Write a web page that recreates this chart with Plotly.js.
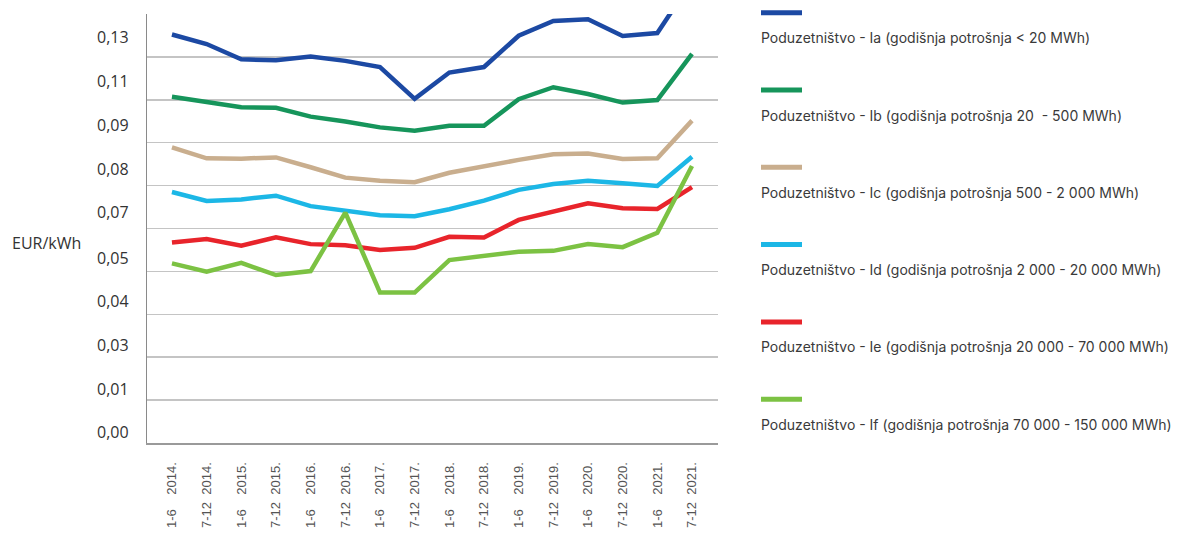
<!DOCTYPE html>
<html>
<head>
<meta charset="utf-8">
<script src="https://cdn.plot.ly/plotly-3.0.1.min.js"></script>
<style>
  html, body { margin: 0; padding: 0; background: #ffffff; }
  #chart { width: 1182px; height: 541px; }
</style>
</head>
<body>
<div id="chart"></div>
<script>
// Half-year periods
const periods = [
  "1-6\u00a0\u00a0\u00a0\u00a02014.", "7-12\u00a0\u00a02014.",
  "1-6\u00a0\u00a0\u00a0\u00a02015.", "7-12\u00a0\u00a02015.",
  "1-6\u00a0\u00a0\u00a0\u00a02016.", "7-12\u00a0\u00a02016.",
  "1-6\u00a0\u00a0\u00a0\u00a02017.", "7-12\u00a0\u00a02017.",
  "1-6\u00a0\u00a0\u00a0\u00a02018.", "7-12\u00a0\u00a02018.",
  "1-6\u00a0\u00a0\u00a0\u00a02019.", "7-12\u00a0\u00a02019.",
  "1-6\u00a0\u00a0\u00a0\u00a02020.", "7-12\u00a0\u00a02020.",
  "1-6\u00a0\u00a0\u00a0\u00a02021.", "7-12\u00a0\u00a02021."
];

// Price per category, EUR/kWh
const seriesIa = [0.1333, 0.1302, 0.1252, 0.1249, 0.1261, 0.1247, 0.1227, 0.1123, 0.1209, 0.1227, 0.1329, 0.1377, 0.1383, 0.1328, 0.1338, 0.1508];
const seriesIb = [0.1130, 0.1112, 0.1096, 0.1094, 0.1065, 0.1049, 0.1030, 0.1019, 0.1035, 0.1035, 0.1122, 0.1161, 0.1139, 0.1111, 0.1119, 0.1270];
const seriesIc = [0.0965, 0.0929, 0.0928, 0.0932, 0.0900, 0.0866, 0.0856, 0.0851, 0.0882, 0.0904, 0.0924, 0.0942, 0.0945, 0.0927, 0.0929, 0.1052];
const seriesId = [0.0819, 0.0790, 0.0795, 0.0807, 0.0773, 0.0757, 0.0743, 0.0740, 0.0763, 0.0791, 0.0826, 0.0845, 0.0856, 0.0848, 0.0839, 0.0934];
const seriesIe = [0.0654, 0.0666, 0.0644, 0.0671, 0.0649, 0.0645, 0.0630, 0.0637, 0.0673, 0.0671, 0.0728, 0.0755, 0.0782, 0.0766, 0.0764, 0.0835];
const seriesIf = [0.0586, 0.0559, 0.0588, 0.0548, 0.0561, 0.0752, 0.0491, 0.0491, 0.0597, 0.0610, 0.0624, 0.0627, 0.0649, 0.0639, 0.0686, 0.0904];

const seriesNames = [
  "Poduzetništvo - Ia (godišnja potrošnja < 20 MWh)",
  "Poduzetništvo - Ib (godišnja potrošnja 20  - 500 MWh)",
  "Poduzetništvo - Ic (godišnja potrošnja 500 - 2 000 MWh)",
  "Poduzetništvo - Id (godišnja potrošnja 2 000 - 20 000 MWh)",
  "Poduzetništvo - Ie (godišnja potrošnja 20 000 - 70 000 MWh)",
  "Poduzetništvo - If (godišnja potrošnja 70 000 - 150 000 MWh)"
];
const seriesColors = ["#1c49a3", "#16955b", "#c9ae8e", "#1cb7e6", "#e8242b", "#7cc243"];

// Grid lines and the tick labels shown beside them
const gridVals = [0, 0.014, 0.028, 0.042, 0.056, 0.070, 0.084, 0.098, 0.112, 0.126, 0.140];
const tickLabelVals = [0.0036, 0.0176, 0.0320, 0.0463, 0.0604, 0.0754, 0.0894, 0.1038, 0.1181, 0.1325];
const tickLabels = ["0,00", "0,01", "0,03", "0,04", "0,05", "0,07", "0,08", "0,09", "0,11", "0,13"];

const allSeries = [seriesIa, seriesIb, seriesIc, seriesId, seriesIe, seriesIf];
const xIdx = periods.map((_, i) => i);

const traces = allSeries.map((vals, k) => ({
  type: "scatter",
  mode: "lines",
  x: xIdx,
  y: vals,
  name: seriesNames[k],
  line: { color: seriesColors[k], width: 4.5 },
  hoverinfo: "skip",
  showlegend: false
}));

const W = 1182, H = 541;
const M = { l: 147, r: 464, t: 14, b: 98 };
const plotW = W - M.l - M.r;
const plotH = H - M.t - M.b;
const px2x = px => (px - M.l) / plotW;
const py2y = py => (H - M.b - py) / plotH;

const annotations = [];
const shapes = [];

// Value labels on the left, placed against the y scale
tickLabels.forEach((t, i) => {
  annotations.push({
    xref: "paper", yref: "y",
    x: px2x(131), y: tickLabelVals[i],
    xanchor: "right", yanchor: "middle",
    text: t, showarrow: false,
    font: { family: "'Open Sans', sans-serif", size: 16, color: "#333333" }
  });
});

// Side key: colour bar above each name
seriesNames.forEach((nm, k) => {
  const swY = 12.7 + k * 77.3;
  shapes.push({
    type: "line", xref: "paper", yref: "paper",
    x0: px2x(761), x1: px2x(802), y0: py2y(swY), y1: py2y(swY),
    line: { color: seriesColors[k], width: 5 }
  });
  annotations.push({
    xref: "paper", yref: "paper",
    x: px2x(759), y: py2y(swY + 25),
    xanchor: "left", yanchor: "middle",
    text: nm, showarrow: false,
    font: { family: "Inter, 'Noto Sans', sans-serif", size: 14, color: "#3a3a3a" }
  });
});
annotations.push({
  xref: "paper", yref: "paper",
  x: px2x(10), y: py2y(243),
  xanchor: "left", yanchor: "middle",
  text: "EUR/kWh", showarrow: false,
  font: { family: "'Open Sans', sans-serif", size: 16, color: "#333333" }
});

const layout = {
  width: W, height: H,
  margin: M,
  paper_bgcolor: "#ffffff",
  plot_bgcolor: "#ffffff",
  showlegend: false,
  xaxis: {
    range: [-0.72, 15.75],
    tickvals: xIdx,
    ticktext: periods,
    tickangle: -90,
    ticks: "",
    ticklabelstandoff: 12,
    showgrid: false,
    zeroline: false,
    showline: true,
    linecolor: "#9a9a9a",
    linewidth: 2,
    tickfont: { family: "'Liberation Sans', Arial, sans-serif", size: 13, color: "#555555" }
  },
  yaxis: {
    range: [0, 0.14],
    tickvals: gridVals,
    showticklabels: false,
    ticks: "",
    showgrid: true,
    gridcolor: "#c4c4c4",
    gridwidth: 1.5,
    zeroline: false,
    showline: true,
    linecolor: "#8a8a8a",
    linewidth: 1.5
  },
  shapes: shapes,
  annotations: annotations
};

Plotly.newPlot("chart", traces, layout, { displayModeBar: false, staticPlot: true });
</script>
</body>
</html>
